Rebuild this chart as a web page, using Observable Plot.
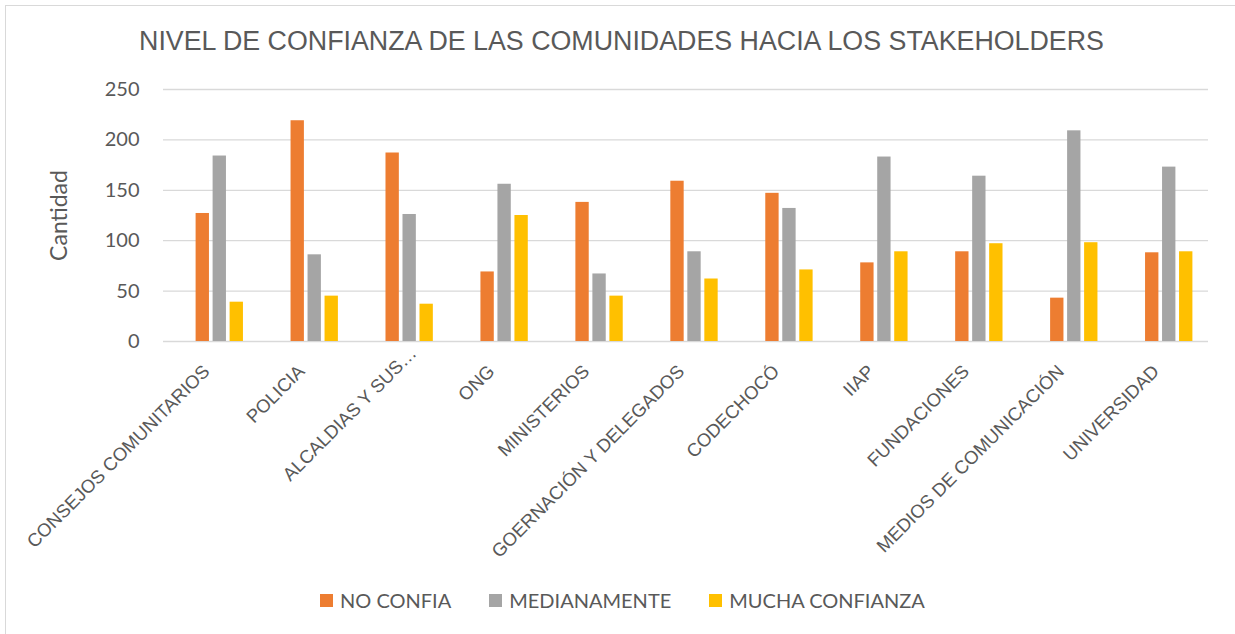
<!DOCTYPE html>
<html>
<head>
<meta charset="utf-8">
<script src="https://cdn.jsdelivr.net/npm/d3@7"></script>
<script src="https://cdn.jsdelivr.net/npm/@observablehq/plot@0.6"></script>
<style>
  html, body { margin: 0; padding: 0; background: #fff; }
  #wrap { position: relative; width: 1235px; height: 634px; overflow: hidden; background: #fff; }
  #frame { position: absolute; left: 5px; top: 5px; width: 1260px; height: 660px; border: 1px solid #d9d9d9; box-sizing: border-box; }
  #title { position: absolute; top: 29px; left: 4px; width: 1235px; text-align: center; font-family: "Liberation Sans", Arial, sans-serif; font-size: 26.8px; line-height: 25px; color: #595959; white-space: nowrap; }
  #chart { position: absolute; left: 0; top: 0; }
  #legend { position: absolute; top: 588px; left: 320px; display: flex; align-items: center; font-family: Lato, sans-serif; font-size: 20px; color: #595959; white-space: nowrap; }
  .item { display: flex; align-items: center; margin-right: 38px; }
  .sw { width: 13px; height: 13px; margin-right: 7px; }
</style>
</head>
<body>
<div id="wrap">
  <div id="frame"></div>
  <div id="chart"></div>
  <div id="title"></div>
  <div id="legend"></div>
</div>
<script>
const title = "NIVEL DE CONFIANZA DE LAS COMUNIDADES HACIA LOS STAKEHOLDERS";
const yLabel = "Cantidad";
const categories = ["CONSEJOS COMUNITARIOS", "POLICIA", "ALCALDIAS Y SUS…", "ONG", "MINISTERIOS", "GOERNACIÓN Y DELEGADOS", "CODECHOCÓ", "IIAP", "FUNDACIONES", "MEDIOS DE COMUNICACIÓN", "UNIVERSIDAD"];
const seriesNames = ["NO CONFIA", "MEDIANAMENTE", "MUCHA CONFIANZA"];
const seriesColors = ["#ED7D31", "#A5A5A5", "#FFC000"];
const noConfia = [127, 219, 187, 69, 138, 159, 147, 78, 89, 43, 88];
const medianamente = [184, 86, 126, 156, 67, 89, 132, 183, 164, 209, 173];
const muchaConfianza = [39, 45, 37, 125, 45, 62, 71, 89, 97, 98, 89];
const yTicks = [0, 50, 100, 150, 200, 250];

const seriesValues = [noConfia, medianamente, muchaConfianza];
const offsets = [-17, 0, 17];
const truncated = "ALCALDIAS Y SUS…";

document.getElementById("title").textContent = title;

const barMarks = seriesNames.map((s, si) =>
  Plot.barY(categories.map((c, i) => ({cat: c, value: seriesValues[si][i]})), {
    x: "cat", y: "value", fill: seriesColors[si],
    dx: offsets[si], insetLeft: 40.8, insetRight: 40.8
  })
);

const labelStyle = {frameAnchor: "bottom", text: d => d, rotate: -45, textAnchor: "end",
  lineAnchor: "bottom", fontSize: 18.5, fontFamily: "Liberation Sans", fill: "#595959"};

const chart = Plot.plot({
  width: 1235,
  height: 575,
  marginTop: 89,
  marginBottom: 234,
  marginLeft: 163,
  marginRight: 27,
  style: {background: "transparent", overflow: "visible"},
  x: {domain: categories, type: "band", range: [171.8, 1216.2], padding: 0, round: false, axis: null},
  y: {domain: [0, 250], axis: null},
  marks: [
    Plot.ruleY(yTicks, {stroke: "#d9d9d9", strokeWidth: 1.3}),
    ...barMarks,
    Plot.axisY({ticks: yTicks, tickSize: 0, tickPadding: 24, fontSize: 20, fontFamily: "Lato", color: "#595959",
      label: yLabel, labelAnchor: "center", labelArrow: "none", labelOffset: 113}),
    Plot.text(categories.filter(c => c !== truncated), {x: d => d, dx: -9, dy: 31, ...labelStyle}),
    Plot.text([truncated], {x: d => d, dx: 8, dy: 13, ...labelStyle})
  ]
});
chart.querySelectorAll("g[aria-label='y-axis label'] text").forEach(t => { t.style.fontSize = "23px"; });
document.getElementById("chart").appendChild(chart);

const legend = document.getElementById("legend");
seriesNames.forEach((s, i) => {
  const item = document.createElement("div");
  item.className = "item";
  const sw = document.createElement("div");
  sw.className = "sw";
  sw.style.background = seriesColors[i];
  const lab = document.createElement("span");
  lab.textContent = s;
  item.appendChild(sw);
  item.appendChild(lab);
  legend.appendChild(item);
});
</script>
</body>
</html>
